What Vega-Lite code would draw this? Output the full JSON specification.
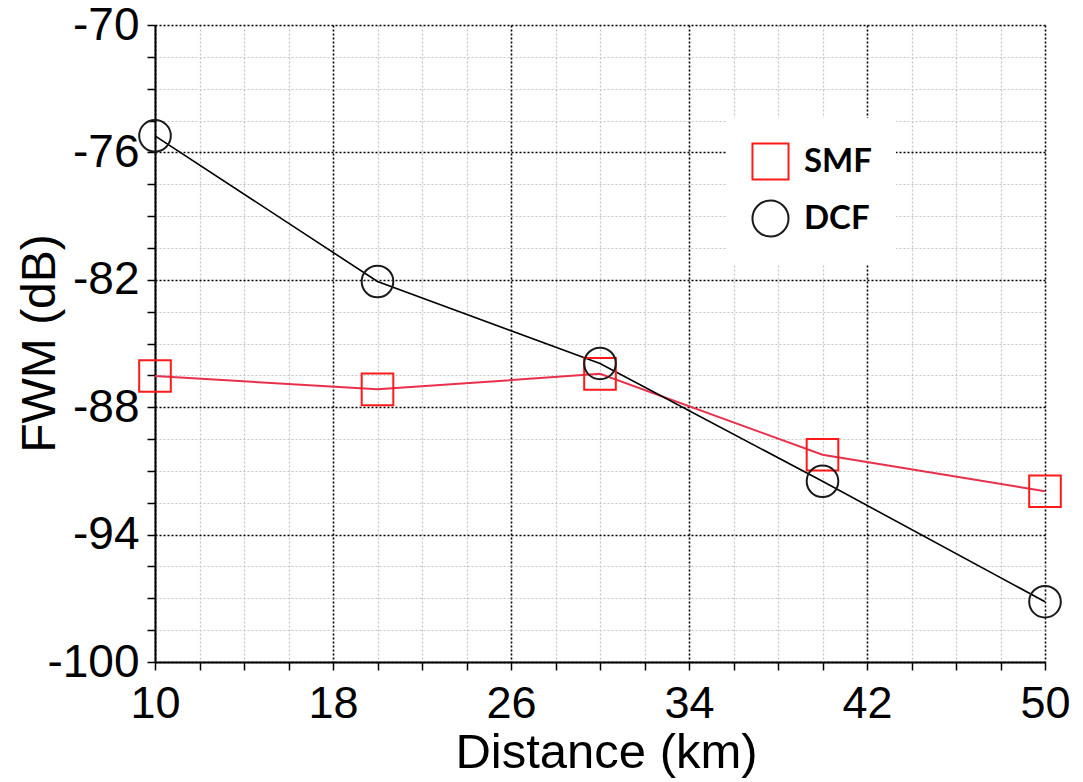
{
  "$schema": "https://vega.github.io/schema/vega-lite/v6.json",
  "width": 890,
  "height": 637,
  "autosize": {"type": "none"},
  "padding": {"left": 155, "top": 25, "right": 38, "bottom": 120},
  "background": "white",
  "config": {
    "view": {"stroke": null},
    "font": "Liberation Sans",
    "legend": {
      "orient": "none",
      "legendX": 572,
      "legendY": 93,
      "fillColor": "white",
      "padding": 24,
      "rowPadding": 12,
      "labelOffset": 14,
      "labelFont": "Lato",
      "labelFontWeight": "bold",
      "labelFontSize": 33,
      "labelColor": "black",
      "symbolSize": 1300,
      "symbolStrokeWidth": 2,
      "title": null
    }
  },
  "data": {
    "values": [
      {"distance": 10, "fwm": -86.53, "series": "SMF"},
      {"distance": 20, "fwm": -87.16, "series": "SMF"},
      {"distance": 30, "fwm": -86.43, "series": "SMF"},
      {"distance": 40, "fwm": -90.24, "series": "SMF"},
      {"distance": 50, "fwm": -91.96, "series": "SMF"},
      {"distance": 10, "fwm": -75.22, "series": "DCF"},
      {"distance": 20, "fwm": -82.08, "series": "DCF"},
      {"distance": 30, "fwm": -85.94, "series": "DCF"},
      {"distance": 40, "fwm": -91.49, "series": "DCF"},
      {"distance": 50, "fwm": -97.16, "series": "DCF"}
    ]
  },
  "encoding": {
    "x": {
      "field": "distance",
      "type": "quantitative",
      "scale": {"domain": [10, 50], "nice": false, "zero": false},
      "axis": {
        "title": "Distance (km)",
        "values": [10, 12, 14, 16, 18, 20, 22, 24, 26, 28, 30, 32, 34, 36, 38, 40, 42, 44, 46, 48, 50],
        "labelExpr": "datum.value % 8 === 2 ? '' + datum.value : ''",
        "labelFlush": false,
        "labelOverlap": false,
        "labelFontSize": 45,
        "labelColor": "black",
        "labelPadding": 11,
        "labelFont": "Liberation Sans",
        "domainColor": "black",
        "domainWidth": 2,
        "tickColor": "black",
        "tickSize": 8,
        "tickWidth": 1.5,
        "grid": true,
        "gridColor": {"condition": {"test": "datum.value % 8 === 2", "value": "black"}, "value": "#c4c4c4"},
        "gridWidth": {"condition": {"test": "datum.value % 8 === 2", "value": 1.6}, "value": 1.2},
        "gridDash": [2, 2],
        "titleFontSize": 49,
        "titleFontWeight": "normal",
        "titleColor": "black",
        "titleFont": "Liberation Sans",
        "titleBaseline": "alphabetic",
        "titleAlign": "center",
        "titleX": 451,
        "titleY": 105
      }
    },
    "y": {
      "field": "fwm",
      "type": "quantitative",
      "scale": {"domain": [-100, -70], "nice": false, "zero": false},
      "axis": {
        "title": "FWM (dB)",
        "values": [-100, -98.5, -97, -95.5, -94, -92.5, -91, -89.5, -88, -86.5, -85, -83.5, -82, -80.5, -79, -77.5, -76, -74.5, -73, -71.5, -70],
        "labelExpr": "(datum.value + 100) % 6 === 0 ? '' + datum.value : ''",
        "labelFlush": false,
        "labelOverlap": false,
        "labelFontSize": 46,
        "labelColor": "black",
        "labelPadding": 8,
        "labelFont": "Liberation Sans",
        "domainColor": "black",
        "domainWidth": 2,
        "tickColor": "black",
        "tickSize": 8,
        "tickWidth": 1.5,
        "grid": true,
        "gridColor": {"condition": {"test": "(datum.value + 100) % 6 === 0", "value": "black"}, "value": "#c4c4c4"},
        "gridWidth": {"condition": {"test": "(datum.value + 100) % 6 === 0", "value": 1.6}, "value": 1.2},
        "gridDash": [2, 2],
        "titleFontSize": 48,
        "titleFontWeight": "normal",
        "titleColor": "black",
        "titleFont": "Liberation Sans",
        "titleAngle": -90,
        "titleBaseline": "alphabetic",
        "titleAlign": "center",
        "titleX": -101,
        "titleY": 318
      }
    }
  },
  "layer": [
    {
      "transform": [{"filter": "datum.series === 'SMF'"}],
      "mark": {"type": "line", "color": "#e8304c", "strokeWidth": 2}
    },
    {
      "transform": [{"filter": "datum.series === 'DCF'"}],
      "mark": {"type": "line", "color": "black", "strokeWidth": 1.6}
    },
    {
      "mark": {"type": "point", "filled": false, "size": 1000, "strokeWidth": 2, "opacity": 1},
      "encoding": {
        "color": {
          "field": "series",
          "type": "nominal",
          "scale": {"domain": ["SMF", "DCF"], "range": ["#ff1a1a", "#1a1a1a"]}
        },
        "shape": {
          "field": "series",
          "type": "nominal",
          "scale": {"domain": ["SMF", "DCF"], "range": ["square", "circle"]}
        }
      }
    }
  ]
}
